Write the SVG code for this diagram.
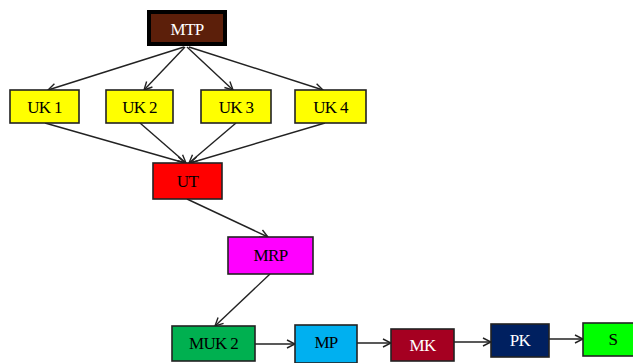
<svg xmlns="http://www.w3.org/2000/svg" width="633" height="363" viewBox="0 0 633 363">
<defs>
<marker id="ah" markerWidth="10" markerHeight="10" refX="9" refY="5" orient="auto" markerUnits="userSpaceOnUse">
<path d="M1,1 L9,5 L1,9" fill="none" stroke="#222" stroke-width="1.4"/>
</marker>
</defs>
<style>
.b{stroke:#222;stroke-width:1.6}
.t{font-family:"Liberation Serif","Times New Roman",serif;font-size:17px;text-anchor:middle;dominant-baseline:central;letter-spacing:-0.7px}
.w{fill:#fff}
.k{fill:#000}
.c{stroke:#222;stroke-width:1.4;fill:none;marker-end:url(#ah)}
</style>
<rect width="633" height="363" fill="#fff"/>
<g id="connectors">
<line class="c" x1="184" y1="47" x2="48" y2="90"/>
<line class="c" x1="185" y1="47" x2="144" y2="90"/>
<line class="c" x1="187" y1="47" x2="233" y2="90"/>
<line class="c" x1="189" y1="47" x2="323" y2="90"/>
<line class="c" x1="45" y1="123" x2="185" y2="163"/>
<line class="c" x1="140" y1="123" x2="186" y2="163"/>
<line class="c" x1="236" y1="123" x2="189" y2="163"/>
<line class="c" x1="325" y1="123" x2="190" y2="163"/>
<line class="c" x1="187" y1="199" x2="268" y2="237"/>
<line class="c" x1="270" y1="274" x2="215" y2="326"/>
<line class="c" x1="255" y1="344" x2="295" y2="344"/>
<line class="c" x1="357" y1="343" x2="391" y2="343"/>
<line class="c" x1="454" y1="342" x2="491" y2="342"/>
<line class="c" x1="549" y1="339" x2="583" y2="339"/>
</g>
<g id="MTP">
<rect x="149" y="12" width="76" height="32" fill="#5C1F0A" stroke="#000" stroke-width="4"/>
<text class="t w" x="187" y="29">MTP</text>
</g>
<g id="UK1">
<rect class="b" x="10" y="90" width="69" height="33" fill="#FFFF00"/>
<text class="t k" x="44.5" y="107">UK 1</text>
</g>
<g id="UK2">
<rect class="b" x="106" y="90" width="67" height="33" fill="#FFFF00"/>
<text class="t k" x="139.5" y="107">UK 2</text>
</g>
<g id="UK3">
<rect class="b" x="201" y="90" width="70" height="33" fill="#FFFF00"/>
<text class="t k" x="236" y="107">UK 3</text>
</g>
<g id="UK4">
<rect class="b" x="295" y="90" width="71" height="33" fill="#FFFF00"/>
<text class="t k" x="330.5" y="107">UK 4</text>
</g>
<g id="UT">
<rect class="b" x="153" y="163" width="69" height="36" fill="#FF0000"/>
<text class="t k" x="187.5" y="181">UT</text>
</g>
<g id="MRP">
<rect class="b" x="228" y="237" width="85" height="37" fill="#FF00FF"/>
<text class="t k" x="270.5" y="255.5">MRP</text>
</g>
<g id="MUK2">
<rect class="b" x="172" y="326" width="83" height="35" fill="#00B050"/>
<text class="t k" x="213.5" y="343">MUK 2</text>
</g>
<g id="MP">
<rect class="b" x="295" y="325" width="62" height="38" fill="#00B0F0"/>
<text class="t k" x="326" y="342">MP</text>
</g>
<g id="MK">
<rect class="b" x="391" y="329" width="63" height="32" fill="#A50021"/>
<text class="t w" x="422.5" y="345">MK</text>
</g>
<g id="PK">
<rect class="b" x="491" y="324" width="58" height="33" fill="#002060"/>
<text class="t w" x="520" y="340">PK</text>
</g>
<g id="S">
<rect class="b" x="583" y="323" width="52" height="33" fill="#00FF00"/>
<text class="t k" x="613" y="339">S</text>
</g>
</svg>
